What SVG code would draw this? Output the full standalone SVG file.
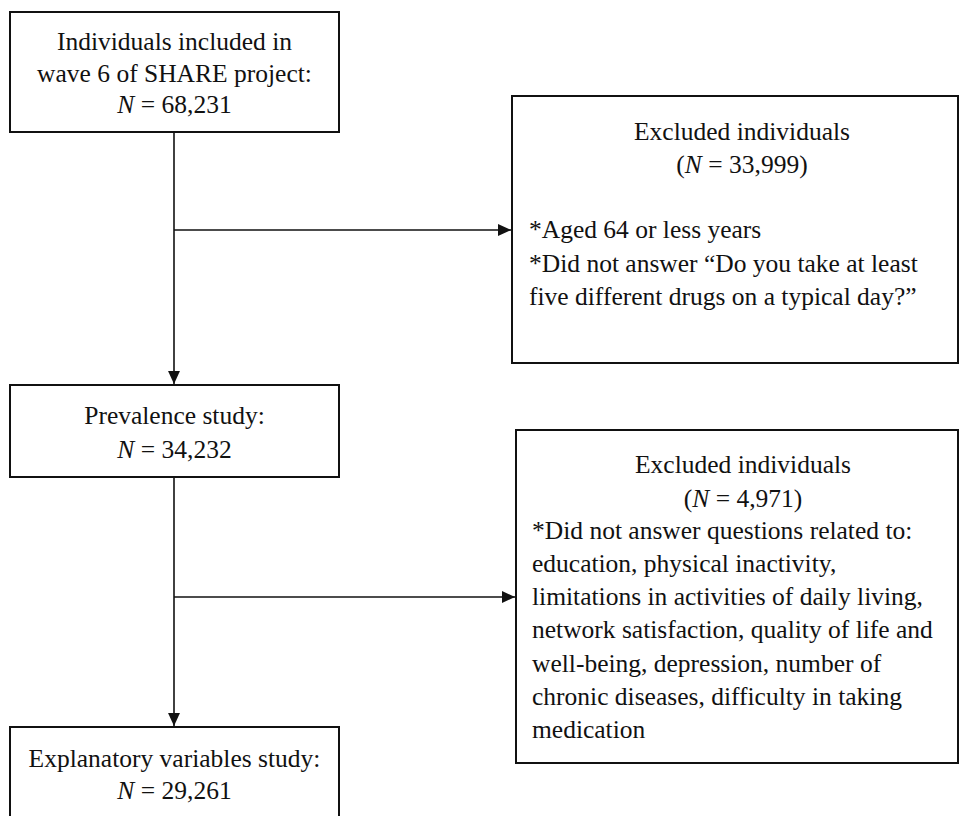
<svg xmlns="http://www.w3.org/2000/svg" width="960" height="816" viewBox="0 0 960 816" font-family="Liberation Serif, Times New Roman, serif">
<style>
.box{fill:#fff;stroke:#111;stroke-width:2}
.t{font-size:25.5px;fill:#111}
.c{text-anchor:middle}
.ln{stroke:#111;stroke-width:1.6;fill:none}
</style>
<defs>
<marker id="ah" viewBox="0 0 12 12" refX="12" refY="6" markerWidth="13" markerHeight="13" markerUnits="userSpaceOnUse" orient="auto">
<path d="M0,0.5 L12,6 L0,11.5 Z" fill="#111"/>
</marker>
</defs>
<rect width="960" height="816" fill="#fff"/>
<g id="connectors">
<line class="ln" x1="174" y1="132" x2="174" y2="384" marker-end="url(#ah)"/>
<line class="ln" x1="174" y1="230" x2="511" y2="230" marker-end="url(#ah)"/>
<line class="ln" x1="174" y1="478" x2="174" y2="726" marker-end="url(#ah)"/>
<line class="ln" x1="174" y1="597" x2="515" y2="597" marker-end="url(#ah)"/>
</g>
<g id="n1">
<rect class="box" x="10" y="12" width="329" height="120"/>
<text class="t c" x="174.5" y="50">Individuals included in</text>
<text class="t c" x="174.5" y="82">wave 6 of SHARE project:</text>
<text class="t c" x="174.5" y="113"><tspan font-style="italic">N</tspan> = 68,231</text>
</g>
<g id="n2">
<rect class="box" x="512" y="96" width="446" height="267"/>
<text class="t c" x="742" y="140">Excluded individuals</text>
<text class="t c" x="742" y="173">(<tspan font-style="italic">N</tspan> = 33,999)</text>
<text class="t" x="529" y="238">*Aged 64 or less years</text>
<text class="t" x="529" y="272">*Did not answer “Do you take at least</text>
<text class="t" x="529" y="305">five different drugs on a typical day?”</text>
</g>
<g id="n3">
<rect class="box" x="10" y="385" width="329" height="92"/>
<text class="t c" x="174.5" y="424">Prevalence study:</text>
<text class="t c" x="174.5" y="458"><tspan font-style="italic">N</tspan> = 34,232</text>
</g>
<g id="n4">
<rect class="box" x="516" y="430" width="442" height="333"/>
<text class="t c" x="743" y="473">Excluded individuals</text>
<text class="t c" x="743" y="507">(<tspan font-style="italic">N</tspan> = 4,971)</text>
<text class="t" x="532" y="539">*Did not answer questions related to:</text>
<text class="t" x="532" y="572">education, physical inactivity,</text>
<text class="t" x="532" y="605">limitations in activities of daily living,</text>
<text class="t" x="532" y="638">network satisfaction, quality of life and</text>
<text class="t" x="532" y="672">well-being, depression, number of</text>
<text class="t" x="532" y="705">chronic diseases, difficulty in taking</text>
<text class="t" x="532" y="738">medication</text>
</g>
<g id="n5">
<rect class="box" x="10" y="727" width="329" height="100"/>
<text class="t c" x="174.5" y="767">Explanatory variables study:</text>
<text class="t c" x="174.5" y="799"><tspan font-style="italic">N</tspan> = 29,261</text>
</g>
</svg>
